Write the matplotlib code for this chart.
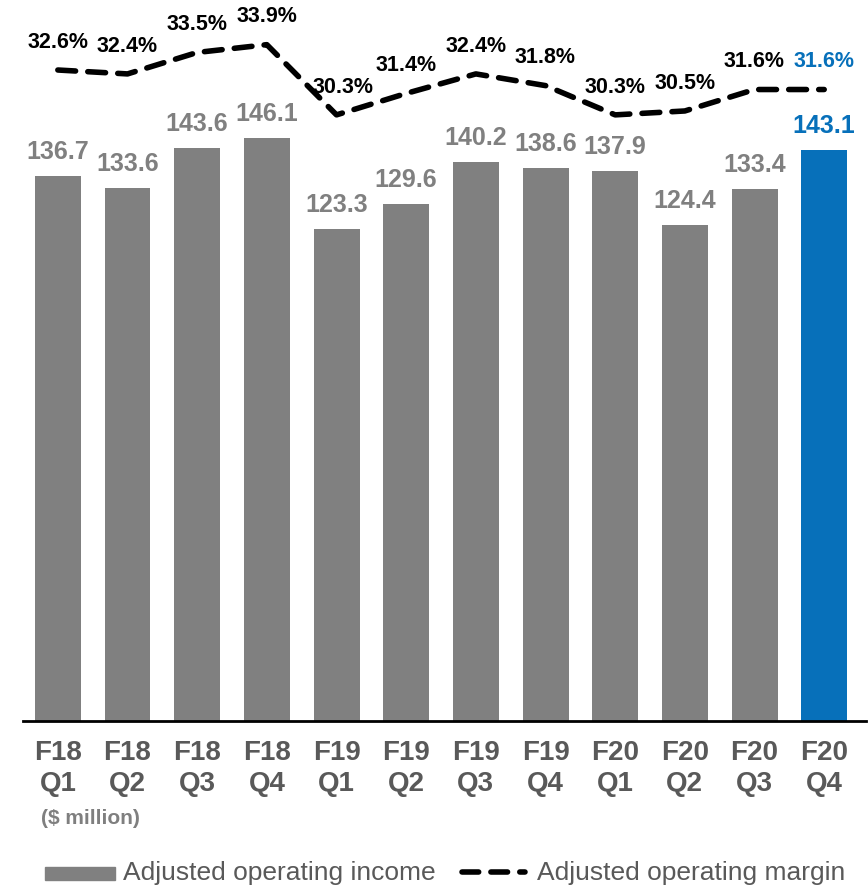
import matplotlib.pyplot as plt
from matplotlib.patches import Rectangle
from matplotlib.lines import Line2D

plt.rcParams['font.family'] = ['Liberation Sans', 'DejaVu Sans']

# 数据
quarters = ["F18\nQ1", "F18\nQ2", "F18\nQ3", "F18\nQ4", "F19\nQ1", "F19\nQ2",
            "F19\nQ3", "F19\nQ4", "F20\nQ1", "F20\nQ2", "F20\nQ3", "F20\nQ4"]
income = [136.7, 133.6, 143.6, 146.1, 123.3, 129.6, 140.2, 138.6, 137.9, 124.4, 133.4, 143.1]
margin = [32.6, 32.4, 33.5, 33.9, 30.3, 31.4, 32.4, 31.8, 30.3, 30.5, 31.6, 31.6]

GRAY = '#808080'
BLUE = '#0770BA'
TICK = '#595959'

fig = plt.figure(figsize=(8.68, 8.85), dpi=100)
ax = fig.add_axes([23 / 868, 164 / 885, 843 / 868, 721 / 885])
ax2 = ax.twinx()

x = list(range(len(quarters)))
colors = [GRAY] * (len(x) - 1) + [BLUE]
ax.bar(x, income, width=0.66, color=colors, zorder=2)

for i, v in enumerate(income):
    ax.annotate(f"{v:.1f}", (i, v), xytext=(0, 12), textcoords='offset points',
                ha='center', va='baseline', fontsize=18, fontweight='bold',
                color=colors[i])

ax.set_xlim(-0.5, 11.6)
ax.set_ylim(0, 180.7)
ax.set_xticks(x)
ax.set_xticklabels(quarters, fontsize=20, fontweight='bold', color=TICK,
                   linespacing=1.25)
ax.tick_params(axis='x', length=0, pad=14)
ax.set_yticks([])
for s in ['top', 'right', 'left']:
    ax.spines[s].set_visible(False)
ax.spines['bottom'].set_linewidth(2)

# 利润率虚线
ax2.plot(x, margin, color='black', lw=4, dashes=(3.2, 2.2),
         dash_capstyle='round', solid_capstyle='round', zorder=3)
ax2.set_ylim(-0.78, 36.19)
ax2.set_axis_off()
for i, v in enumerate(margin):
    dx = 5 if i == 4 else 0
    ax2.annotate(f"{v:.1f}%", (i, v), xytext=(dx, 16), textcoords='offset points',
                 ha='center', va='baseline', fontsize=15.5, fontweight='bold',
                 color=BLUE if i == len(x) - 1 else 'black')

fig.text(90 / 868, 1 - 818 / 885, "($ million)", ha='center', va='center',
         fontsize=15, fontweight='bold', color='#7f7f7f')

# 图例
fig.patches.append(Rectangle((45 / 868, 1 - 880 / 885), 70 / 868, 13 / 885,
                             transform=fig.transFigure, color=GRAY))
fig.text(123 / 868, 1 - 873 / 885, "Adjusted operating income", ha='left',
         va='center', fontsize=19, color=TICK)
fig.lines.append(Line2D([462 / 868, 525 / 868], [1 - 872 / 885, 1 - 872 / 885],
                        transform=fig.transFigure, color='black', lw=4,
                        dashes=(3, 2.2), dash_capstyle='round'))
fig.text(537 / 868, 1 - 873 / 885, "Adjusted operating margin", ha='left',
         va='center', fontsize=19, color=TICK)

fig.savefig("out.png", dpi=100)
